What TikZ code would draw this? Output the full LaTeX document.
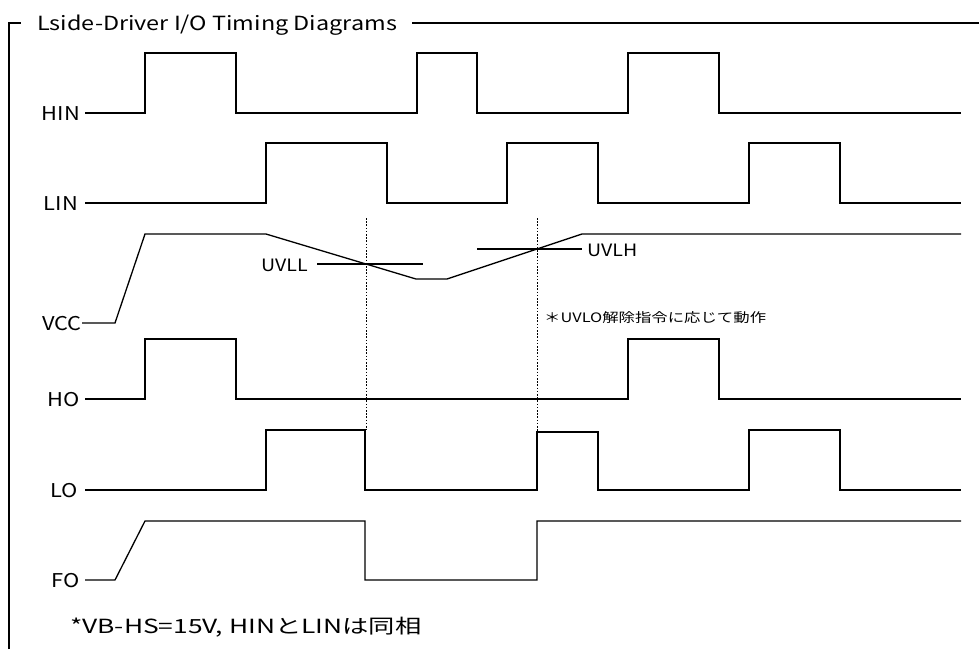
\documentclass[tikz,border=0pt]{standalone}
\usepackage{fontspec}
\setmainfont{Noto Sans CJK JP}
\newfontfamily\wideA[FakeStretch=1.15]{Noto Sans CJK JP}
\newfontfamily\wideB[FakeStretch=1.2]{Noto Sans CJK JP}
\newfontfamily\wideN[FakeStretch=1.26]{Noto Sans CJK JP}
\newfontfamily\wideC[FakeStretch=1.35]{Noto Sans CJK JP}
\begin{document}
\begin{tikzpicture}[x=1pt,y=-1pt,
  sig/.style={line width=1.3pt, line join=miter},
  lab/.style={anchor=base east, inner sep=0pt, font=\wideA\fontsize{19}{19}\selectfont},
  thr/.style={anchor=base west, inner sep=0pt, font=\wideA\fontsize{17}{17}\selectfont},
  guide/.style={line width=0.9pt, dash pattern=on 1.6pt off 1.6pt}]
\useasboundingbox (0,0) rectangle (979,649);
% frame and title
\node[anchor=base west, inner sep=0pt, font=\wideB\fontsize{19.5}{19.5}\selectfont] (title) at (37,30) {Lside-Driver I/O Timing Diagrams};
\coordinate (fTL) at (9,23);
\coordinate (fBL) at (9,649);
\coordinate (fTR) at (979,23);
\draw[sig] (fBL) -- (fTL) -- (21,23);
\draw[sig] (412,23) -- (fTR);
% labels
\node[lab] (hin) at (80,120) {HIN};
\node[lab] (lin) at (78,210) {LIN};
\node[lab] (vcc) at (82,330) {VCC};
\node[lab] (ho)  at (80,406) {HO};
\node[lab] (lo)  at (78,497) {LO};
\node[lab] (fo)  at (80,587) {FO};
% HIN
\draw[sig] (85,113) -- (145,113) -- (145,53) -- (236,53) -- (236,113) -- (417,113) -- (417,53) -- (477,53) -- (477,113) -- (628,113) -- (628,53) -- (719,53) -- (719,113) -- (961,113);
% LIN
\draw[sig] (85,203) -- (266,203) -- (266,143) -- (387,143) -- (387,203) -- (507,203) -- (507,143) -- (598,143) -- (598,203) -- (749,203) -- (749,143) -- (840,143) -- (840,203) -- (961,203);
% VCC
\draw[sig] (82,323) -- (115,323) -- (145,234) -- (266,234) -- (416,279) -- (447,279) -- (582,234) -- (961,234);
% thresholds
\node[thr] (uvll) at (261,271) {UVLL};
\node[thr] (uvlh) at (587,256) {UVLH};
\draw[sig, line width=1.1pt] (317,264) -- (423,264);
\draw[sig, line width=1.1pt] (477,249) -- (582,249);
% HO
\draw[sig] (85,399) -- (145,399) -- (145,339) -- (236,339) -- (236,399) -- (628,399) -- (628,339) -- (719,339) -- (719,399) -- (961,399);
% LO
\draw[sig] (85,490) -- (266,490) -- (266,430) -- (365,430) -- (365,490) -- (537,490) -- (537,432) -- (598,432) -- (598,490) -- (749,490) -- (749,430) -- (840,430) -- (840,490) -- (961,490);
% FO
\draw[sig] (85,580) -- (115,580) -- (145,521) -- (365,521) -- (365,580) -- (537,580) -- (537,521) -- (961,521);
% guides
\coordinate (g1t) at (366,218);
\coordinate (g1b) at (366,430);
\coordinate (g2t) at (537,218);
\coordinate (g2b) at (537,490);
\draw[guide] (g1t) -- (g1b);
\draw[guide] (g2t) -- (g2b);
% notes
\node[anchor=base west, inner sep=0pt, font=\wideN\fontsize{13}{13}\selectfont] (note) at (544,322) {＊UVLO解除指令に応じて動作};
\node[anchor=base west, inner sep=0pt, font=\wideC\fontsize{19.5}{19.5}\selectfont] (foot) at (70,633) {*VB-HS=15V, HINとLINは同相};
\end{tikzpicture}
\end{document}
